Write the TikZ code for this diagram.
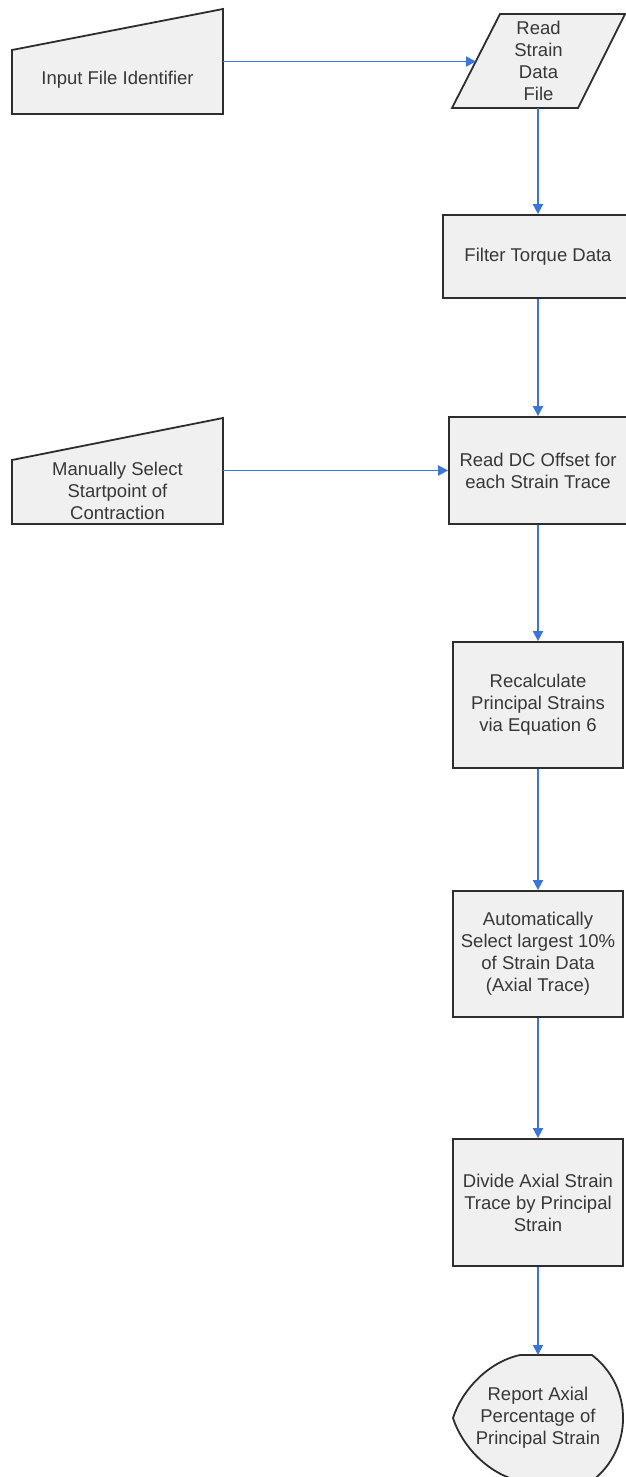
\documentclass[tikz,border=0pt]{standalone}
\usepackage{fontspec}
\setmainfont{Liberation Sans}
\usetikzlibrary{arrows.meta}
\definecolor{shapefill}{RGB}{240,240,240}
\definecolor{shapeline}{RGB}{45,45,45}
\definecolor{textgray}{RGB}{55,55,55}
\definecolor{flowblue}{RGB}{58,118,216}
\begin{document}
\begin{tikzpicture}[x=1pt,y=-1pt,
  outline/.style={draw=shapeline, fill=shapefill, line width=1.8pt, line join=miter},
  txt/.style={text=textgray, align=center, inner sep=0pt, font=\fontsize{18.5}{22}\selectfont},
  procbox/.style={outline, rectangle, txt},
  flow/.style={draw=flowblue, line width=1.8pt, -{Triangle[length=10pt,width=10pt]}}]
\useasboundingbox (0,0) rectangle (626,1477);
\clip (0,0) rectangle (626,1477);

% manual input: file identifier
\draw[outline] (12,50) -- (223,9) -- (223,114) -- (12,114) -- cycle;
\node[txt] (input) at (117.5,80) {Input File Identifier};
\coordinate (input-e) at (223,61.5);

% data input: strain data file
\draw[outline] (500,14) -- (625,14) -- (578,108) -- (452,108) -- cycle;
\node[txt] (readfile) at (538.5,61) {Read\\Strain\\Data\\File};
\coordinate (readfile-w) at (476,61.5);
\coordinate (readfile-s) at (538,108);

% process steps
\node[procbox, minimum width=190pt, minimum height=83pt] (filter) at (538,256.5) {Filter Torque Data};
\node[procbox, minimum width=178pt, minimum height=107pt] (dc) at (538,470.5) {Read DC Offset for\\each Strain Trace};

% manual input: start point
\draw[outline] (12,460) -- (223,418) -- (223,524) -- (12,524) -- cycle;
\node[txt] (manual) at (117.5,491) {Manually Select\\Startpoint of\\Contraction};
\coordinate (manual-e) at (223,470.5);

\node[procbox, minimum width=170pt, minimum height=126pt] (recalc) at (538,705) {Recalculate\\Principal Strains\\via Equation 6};
\node[procbox, minimum width=170pt, minimum height=126pt] (auto) at (538,954) {Automatically\\Select largest 10\%\\of Strain Data\\(Axial Trace)};
\node[procbox, minimum width=170pt, minimum height=127pt] (divide) at (538,1202.5) {Divide Axial Strain\\Trace by Principal\\Strain};

% display output
\draw[outline] (520,1355) -- (592,1355)
  .. controls (633.4,1386.8) and (633.4,1449.2) .. (592,1481)
  -- (520,1481)
  .. controls (488,1474) and (462,1446) .. (453,1418)
  .. controls (462,1390) and (488,1362) .. (520,1355) -- cycle;
\node[txt] (report) at (538,1418) {Report Axial\\Percentage of\\Principal Strain};
\coordinate (report-n) at (538,1355);

% connectors
\draw[flow] (input-e) -- (readfile-w);
\draw[flow] (readfile-s) -- (filter.north);
\draw[flow] (filter.south) -- (dc.north);
\draw[flow] (manual-e) -- (dc.west);
\draw[flow] (dc.south) -- (recalc.north);
\draw[flow] (recalc.south) -- (auto.north);
\draw[flow] (auto.south) -- (divide.north);
\draw[flow] (divide.south) -- (report-n);
\end{tikzpicture}
\end{document}
